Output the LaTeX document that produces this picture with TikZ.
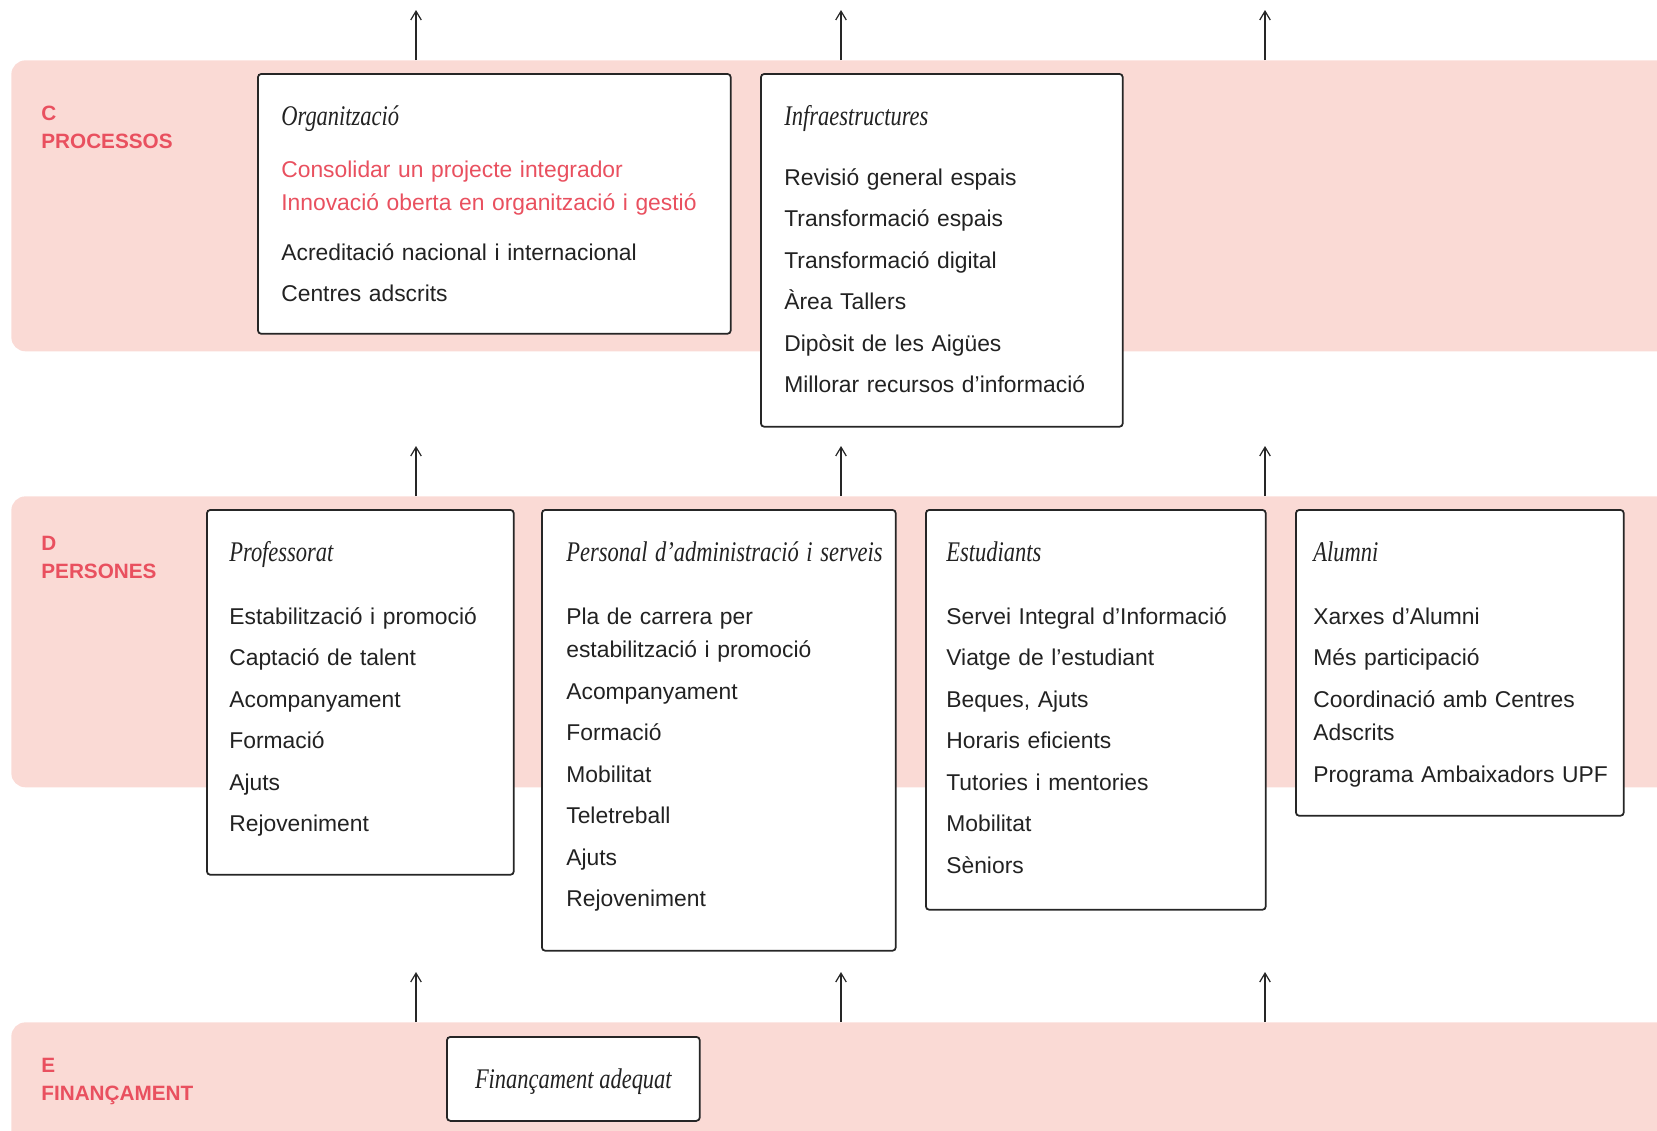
\documentclass[tikz,border=0pt]{standalone}
\usepackage{fontspec}
\setmainfont{Liberation Sans}
\newfontfamily\titlefont[FakeStretch=0.79]{Liberation Serif}
\usepackage{tikz}
\usetikzlibrary{positioning,arrows.meta}

\definecolor{bandpink}{HTML}{FADAD5}
\definecolor{labelred}{HTML}{E9505F}
\definecolor{itemgray}{HTML}{222222}

\newcommand{\cardtitle}[1]{{\titlefont\itshape\fontsize{16.2}{19}\selectfont\rule{0pt}{12pt}#1}}
\newcommand{\nextitem}{\\[4.7pt]}

\tikzset{
  band/.style={fill=bandpink, rounded corners=8pt, inner sep=0pt, anchor=north west},
  card/.style={draw=black!85, line width=1pt, fill=white, rounded corners=2pt, inner sep=0pt, anchor=north west},
  cardtext/.style={anchor=north west, inner sep=0pt, align=left, text=itemgray, font=\fontsize{13}{18.9}\selectfont},
  lbl/.style={anchor=north west, inner sep=0pt, align=left, text=labelred, font=\bfseries\fontsize{11.8}{15.9}\selectfont},
  arr/.style={-{Straight Barb[length=5pt,width=6pt]}, line width=0.7pt, black!85}
}

\begin{document}
\begin{tikzpicture}[x=0.02cm,y=-0.02cm]
  \useasboundingbox (0,0) rectangle (1657,1130);
  \clip (0,0) rectangle (1657,1130);

  % bands
  \node[band, minimum width=34cm, minimum height=5.82cm] (bandC) at (11,60) {};
  \node[band, minimum width=34cm, minimum height=5.82cm] (bandD) at (11,496) {};
  \node[band, minimum width=34cm, minimum height=3cm] (bandE) at (11,1022) {};

  \node[lbl] (lblC) at ([shift={(30,46)}]bandC.north west) {C\\PROCESSOS};
  \node[lbl] (lblD) at ([shift={(30,40)}]bandD.north west) {D\\PERSONES};
  \node[lbl] (lblE) at ([shift={(30,36)}]bandE.north west) {E\\FINANÇAMENT};

  % arrows
  \foreach \row/\ytop in {C/60,D/496,E/1022}{
    \foreach \xx [count=\i] in {416,841,1265}{
      \coordinate (\row\i) at (\xx,\ytop);
      \coordinate (\row\i t) at (\xx,\ytop-50);
      \draw[arr] (\row\i) -- (\row\i t);
    }
  }

  % C processos
  \node[card, minimum width=9.46cm, minimum height=5.2cm] (org) at (257,73) {};
  \node[cardtext, text width=9cm] (orgtxt) at ([shift={(24,31)}]org.north west) {
    \cardtitle{Organització}\\[10.5pt]
    \textcolor{labelred}{Consolidar un projecte integrador}\\
    \textcolor{labelred}{Innovació oberta en organització i gestió}\\[9.6pt]
    Acreditació nacional i internacional\nextitem
    Centres adscrits};

  \node[card, minimum width=7.24cm, minimum height=7.06cm] (infra) at (760,73) {};
  \node[cardtext, text width=6.8cm] (infratxt) at ([shift={(24,31)}]infra.north west) {
    \cardtitle{Infraestructures}\\[15.2pt]
    Revisió general espais\nextitem
    Transformació espais\nextitem
    Transformació digital\nextitem
    Àrea Tallers\nextitem
    Dipòsit de les Aigües\nextitem
    Millorar recursos d’informació};

  % D persones
  \node[card, minimum width=6.14cm, minimum height=7.3cm] (prof) at (206,509) {};
  \node[cardtext, text width=5.8cm] (proftxt) at ([shift={(23,31)}]prof.north west) {
    \cardtitle{Professorat}\\[17pt]
    Estabilització i promoció\nextitem
    Captació de talent\nextitem
    Acompanyament\nextitem
    Formació\nextitem
    Ajuts\nextitem
    Rejoveniment};

  \node[card, minimum width=7.08cm, minimum height=8.82cm] (pas) at (541,509) {};
  \node[cardtext, text width=6.6cm] (pastxt) at ([shift={(25,31)}]pas.north west) {
    \cardtitle{Personal d’administració i serveis}\\[17pt]
    Pla de carrera per\\
    estabilització i promoció\nextitem
    Acompanyament\nextitem
    Formació\nextitem
    Mobilitat\nextitem
    Teletreball\nextitem
    Ajuts\nextitem
    Rejoveniment};

  \node[card, minimum width=6.8cm, minimum height=8cm] (est) at (925,509) {};
  \node[cardtext, text width=6.4cm] (esttxt) at ([shift={(21,31)}]est.north west) {
    \cardtitle{Estudiants}\\[17pt]
    Servei Integral d’Informació\nextitem
    Viatge de l’estudiant\nextitem
    Beques, Ajuts\nextitem
    Horaris eficients\nextitem
    Tutories i mentories\nextitem
    Mobilitat\nextitem
    Sèniors};

  \node[card, minimum width=6.56cm, minimum height=6.12cm] (alum) at (1295,509) {};
  \node[cardtext, text width=6.2cm] (alumtxt) at ([shift={(18,31)}]alum.north west) {
    \cardtitle{Alumni}\\[17pt]
    Xarxes d’Alumni\nextitem
    Més participació\nextitem
    Coordinació amb Centres\\
    Adscrits\nextitem
    Programa Ambaixadors UPF};

  % E financament
  \node[card, minimum width=5.06cm, minimum height=1.68cm] (fin) at (446,1036) {};
  \node[anchor=base, inner sep=0pt, text=itemgray] (fintxt) at ([shift={(0,10)}]fin.center) {\cardtitle{Finançament adequat}};
\end{tikzpicture}
\end{document}
